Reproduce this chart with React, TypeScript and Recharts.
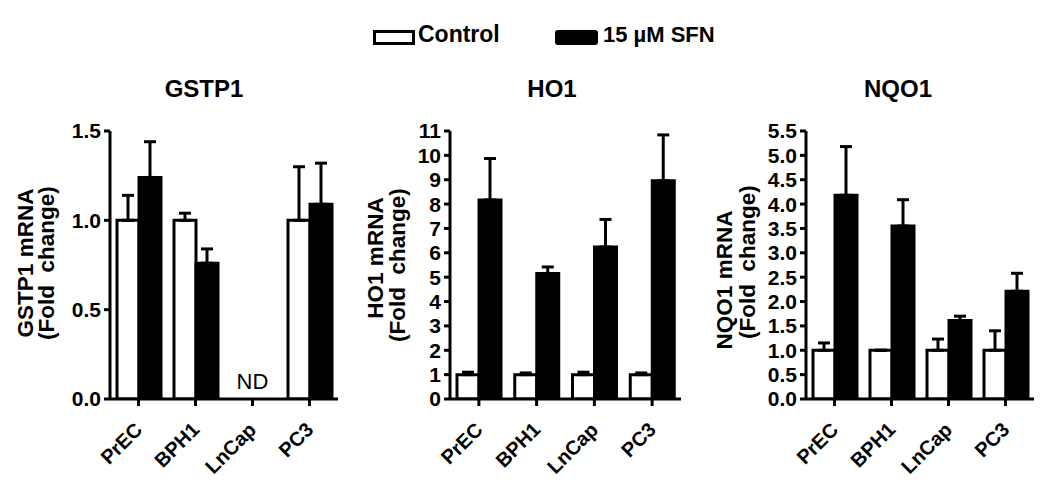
import React from 'react';
import { BarChart, Bar, XAxis, YAxis, ErrorBar, ReferenceDot } from 'recharts';

const categories = ['PrEC', 'BPH1', 'LnCap', 'PC3'];

const gstp1Control = [1.0, 1.0, null, 1.0];
const gstp1ControlErr = [0.14, 0.04, null, 0.3];
const gstp1Sfn = [1.24, 0.76, null, 1.09];
const gstp1SfnErr = [0.2, 0.08, null, 0.23];

const ho1Control = [1.0, 1.0, 1.0, 1.0];
const ho1ControlErr = [0.1, 0.07, 0.1, 0.07];
const ho1Sfn = [8.17, 5.15, 6.24, 8.96];
const ho1SfnErr = [1.7, 0.27, 1.13, 1.88];

const nqo1Control = [1.0, 1.0, 1.0, 1.0];
const nqo1ControlErr = [0.15, 0.0, 0.23, 0.4];
const nqo1Sfn = [4.18, 3.55, 1.61, 2.21];
const nqo1SfnErr = [1.0, 0.54, 0.09, 0.37];

const gstp1Ticks = [0, 0.5, 1.0, 1.5];
const ho1Ticks = [0, 1, 2, 3, 4, 5, 6, 7, 8, 9, 10, 11];
const nqo1Ticks = [0, 0.5, 1.0, 1.5, 2.0, 2.5, 3.0, 3.5, 4.0, 4.5, 5.0, 5.5];

const legendLabels = ['Control', '15 \u00b5M SFN'];
const titles = ['GSTP1', 'HO1', 'NQO1'];
const yLabels1 = ['GSTP1 mRNA', 'HO1 mRNA', 'NQO1 mRNA'];
const yLabel2 = '(Fold  change)';
const ndLabel = 'ND';

const FONT = "'Liberation Sans', Arial, Helvetica, sans-serif";

type Num = number | null;

function buildData(ctrl: Num[], ctrlErr: Num[], sfn: Num[], sfnErr: Num[]) {
  return categories.map((c, i) => ({
    cat: c,
    control: ctrl[i],
    controlErr: ctrlErr[i] == null ? null : [0, ctrlErr[i] as number],
    sfn: sfn[i],
    sfnErr: sfnErr[i] == null ? null : [0, sfnErr[i] as number],
  }));
}

const gstp1Data = buildData(gstp1Control, gstp1ControlErr, gstp1Sfn, gstp1SfnErr);
const ho1Data = buildData(ho1Control, ho1ControlErr, ho1Sfn, ho1SfnErr);
const nqo1Data = buildData(nqo1Control, nqo1ControlErr, nqo1Sfn, nqo1SfnErr);

const XTick = (props: any) => {
  const { x, y, payload } = props;
  const ax = x + 5;
  const ay = y + 23;
  return (
    <text
      x={ax}
      y={ay}
      textAnchor="end"
      transform={`rotate(-45, ${ax}, ${ay})`}
      fontFamily={FONT}
      fontWeight="bold"
      fontSize={20}
      fill="#000"
    >
      {payload.value}
    </text>
  );
};

type PanelProps = {
  left: number;
  width: number;
  yAxisWidth: number;
  marginRight: number;
  data: any[];
  ticks: number[];
  decimals: number;
  label1: string;
  l1dx: number;
  l1cy: number;
  l2dx: number;
  l2cy: number;
  nd?: boolean;
};

function Panel(p: PanelProps) {
  const H = 493;
  const top = 131;
  const xAxisH = 70;
  const bottom = H - 399 - xAxisH;
  const yLabelContent = (lp: any) => {
    const vb = lp.viewBox || { x: 0, y: top, width: p.yAxisWidth, height: 399 - top };
    const right = vb.x + vb.width;
    const x1 = right + p.l1dx;
    const x2 = right + p.l2dx;
    return (
      <g>
        <text
          x={x1}
          y={p.l1cy}
          textAnchor="middle"
          transform={`rotate(-90, ${x1}, ${p.l1cy})`}
          fontFamily={FONT}
          fontWeight="bold"
          fontSize={22.5}
          fill="#000"
        >
          {p.label1}
        </text>
        <text
          x={x2}
          y={p.l2cy}
          textAnchor="middle"
          transform={`rotate(-90, ${x2}, ${p.l2cy})`}
          fontFamily={FONT}
          fontWeight="bold"
          fontSize={22.5}
          fill="#000"
          style={{ whiteSpace: 'pre' }}
        >
          {yLabel2}
        </text>
      </g>
    );
  };
  return (
    <div style={{ position: 'absolute', left: p.left, top: 0, width: p.width, height: H }}>
      <BarChart
        width={p.width}
        height={H}
        data={p.data}
        margin={{ top, right: p.marginRight, left: 0, bottom }}
        barGap={0}
        barSize={22}
      >
        <XAxis
          dataKey="cat"
          height={xAxisH}
          axisLine={{ stroke: '#000', strokeWidth: 3 }}
          tickLine={{ stroke: '#000', strokeWidth: 3 }}
          tickSize={7}
          tick={<XTick />}
          interval={0}
        />
        <YAxis
          width={p.yAxisWidth}
          domain={[p.ticks[0], p.ticks[p.ticks.length - 1]]}
          ticks={p.ticks}
          interval={0}
          allowDataOverflow
          axisLine={{ stroke: '#000', strokeWidth: 3 }}
          tickLine={{ stroke: '#000', strokeWidth: 3 }}
          tickSize={6}
          tickMargin={3}
          tickFormatter={(v: number) => v.toFixed(p.decimals)}
          tick={{ fill: '#000', fontFamily: FONT, fontWeight: 'bold', fontSize: 21 }}
          label={{ content: yLabelContent }}
        />
        <Bar dataKey="control" fill="#fff" stroke="#000" strokeWidth={3} isAnimationActive={false}>
          <ErrorBar dataKey="controlErr" direction="y" width={6} stroke="#000" strokeWidth={3} />
        </Bar>
        <Bar dataKey="sfn" fill="#000" stroke="#000" strokeWidth={3} isAnimationActive={false}>
          <ErrorBar dataKey="sfnErr" direction="y" width={6} stroke="#000" strokeWidth={3} />
        </Bar>
        {p.nd ? (
          <ReferenceDot
            x="LnCap"
            y={0}
            ifOverflow="visible"
            shape={(sp: any) => (
              <text
                x={sp.cx}
                y={sp.cy - 10}
                textAnchor="middle"
                fontFamily={FONT}
                fontSize={22}
                fill="#000"
              >
                {ndLabel}
              </text>
            )}
          />
        ) : null}
      </BarChart>
    </div>
  );
}

export default function App() {
  return (
    <div
      style={{
        position: 'absolute',
        left: 0,
        top: 0,
        width: 1050,
        height: 493,
        background: '#fff',
        overflow: 'hidden',
      }}
    >
      <Panel
        left={0}
        width={345}
        yAxisWidth={110}
        marginRight={7}
        data={gstp1Data}
        ticks={gstp1Ticks}
        decimals={1}
        label1={yLabels1[0]}
        l1dx={-77}
        l1cy={263}
        l2dx={-56}
        l2cy={263}
        nd
      />
      <Panel
        left={345}
        width={345}
        yAxisWidth={105}
        marginRight={9}
        data={ho1Data}
        ticks={ho1Ticks}
        decimals={0}
        label1={yLabels1[1]}
        l1dx={-67}
        l1cy={258}
        l2dx={-45}
        l2cy={265}
      />
      <Panel
        left={690}
        width={360}
        yAxisWidth={116}
        marginRight={16}
        data={nqo1Data}
        ticks={nqo1Ticks}
        decimals={1}
        label1={yLabels1[2]}
        l1dx={-74}
        l1cy={280}
        l2dx={-51}
        l2cy={262}
      />
      <svg
        width={1050}
        height={493}
        style={{ position: 'absolute', left: 0, top: 0, pointerEvents: 'none' }}
      >
        <rect x={374.5} y={31.5} width={39} height={12} fill="#fff" stroke="#000" strokeWidth={3} />
        <text x={418} y={42} fontFamily={FONT} fontWeight="bold" fontSize={23} fill="#000">
          {legendLabels[0]}
        </text>
        <rect x={556.5} y={31.5} width={40} height={12} rx={1.5} fill="#000" stroke="#000" strokeWidth={3} />
        <text x={603} y={42} fontFamily={FONT} fontWeight="bold" fontSize={22} fill="#000">
          {legendLabels[1]}
        </text>
        <text x={204} y={97} textAnchor="middle" fontFamily={FONT} fontWeight="bold" fontSize={24} fill="#000">
          {titles[0]}
        </text>
        <text x={552} y={97} textAnchor="middle" fontFamily={FONT} fontWeight="bold" fontSize={24} fill="#000">
          {titles[1]}
        </text>
        <text x={898} y={97} textAnchor="middle" fontFamily={FONT} fontWeight="bold" fontSize={24} fill="#000">
          {titles[2]}
        </text>
      </svg>
    </div>
  );
}
